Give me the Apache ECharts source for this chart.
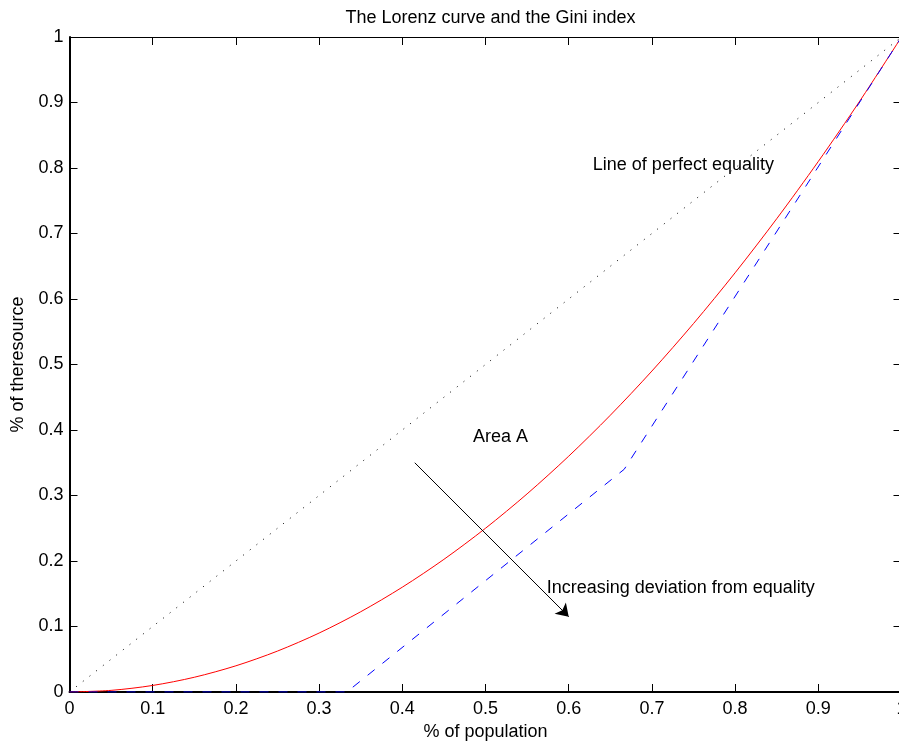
<!DOCTYPE html>
<html>
<head>
<meta charset="utf-8">
<script src="https://cdn.jsdelivr.net/npm/echarts@6/dist/echarts.min.js"></script>
<style>
  html, body { margin: 0; padding: 0; background: #fff; }
  #chart { width: 899px; height: 742px; }
</style>
</head>
<body>
<div id="chart"></div>
<script>
// Cumulative population share and the matching resource shares
const populationShare = [0, 0.05, 0.1, 0.15, 0.2, 0.25, 0.3, 0.35, 0.4, 0.45, 0.5,
                         0.55, 0.6, 0.65, 0.7, 0.75, 0.8, 0.85, 0.9, 0.95, 1];
const lorenzShare = [0, 0.0025, 0.01, 0.0225, 0.04, 0.0625, 0.09, 0.1225, 0.16, 0.2025, 0.25,
                     0.3025, 0.36, 0.4225, 0.49, 0.5625, 0.64, 0.7225, 0.81, 0.9025, 1];

// A more unequal distribution (three groups)
const groupPopulation = [0, 0.3333, 0.6667, 1];
const groupShare = [0, 0, 0.34, 1];

// Line of perfect equality
const equalityX = [0, 1];
const equalityY = [0, 1];

// Arrow showing the direction of increasing inequality
const arrowFrom = [0.415, 0.35];
const arrowTo = [0.6, 0.115];

// Text notes: [x, y, text]
const notes = [
  [0.629, 0.805, 'Line of perfect equality'],
  [0.485, 0.39, 'Area A'],
  [0.5735, 0.159, 'Increasing deviation from equality']
];

const tickValues = [0, 0.1, 0.2, 0.3, 0.4, 0.5, 0.6, 0.7, 0.8, 0.9, 1];

const FONT = 'Liberation Sans, Arial, Helvetica, sans-serif';
const FS = 18;

const zip = (xs, ys) => xs.map((x, i) => [x, ys[i]]);

const chart = echarts.init(document.getElementById('chart'), null, { renderer: 'canvas' });

function axisBase(position, showLabel, lineWidth) {
  return {
    type: 'value',
    position: position,
    min: tickValues[0],
    max: tickValues[tickValues.length - 1],
    interval: 0.1,
    axisLine: { show: true, onZero: false, lineStyle: { color: '#000', width: lineWidth } },
    axisTick: { show: true, inside: true, length: 8, lineStyle: { color: '#000', width: 1 } },
    splitLine: { show: false },
    axisLabel: {
      show: showLabel,
      color: '#000',
      fontFamily: FONT,
      fontSize: FS
    }
  };
}

const xBottom = axisBase('bottom', true, 2);
xBottom.axisLabel.margin = 8;
xBottom.name = '% of population';
xBottom.nameLocation = 'middle';
xBottom.nameGap = 30;
xBottom.nameTextStyle = { color: '#000', fontFamily: FONT, fontSize: FS };

const xTop = axisBase('top', false, 1);

const yLeft = axisBase('left', true, 2);
yLeft.axisLabel.margin = 6;
yLeft.name = '% of theresource';
yLeft.nameLocation = 'middle';
yLeft.nameGap = 42;
yLeft.nameTextStyle = { color: '#000', fontFamily: FONT, fontSize: FS };

const yRight = axisBase('right', false, 1);

chart.setOption({
  animation: false,
  backgroundColor: '#fff',
  title: {
    text: 'The Lorenz curve and the Gini index',
    left: 485.5,
    textAlign: 'center',
    top: 4,
    textStyle: { color: '#000', fontFamily: FONT, fontSize: FS, fontWeight: 'normal' }
  },
  grid: { left: 69.5, top: 37, width: 832, height: 655, containLabel: false, outerBoundsMode: 'none' },
  xAxis: [xBottom, xTop],
  yAxis: [yLeft, yRight],
  series: [
    {
      name: 'equality',
      type: 'line',
      data: zip(equalityX, equalityY),
      showSymbol: false,
      symbol: 'none',
      lineStyle: { color: '#000', width: 1, type: [1, 7.5] },
      silent: true
    },
    {
      name: 'lorenz',
      type: 'line',
      data: zip(populationShare, lorenzShare),
      showSymbol: false,
      symbol: 'none',
      smooth: 0.3,
      lineStyle: { color: '#ff0000', width: 1 },
      silent: true
    },
    {
      name: 'groups',
      type: 'line',
      data: zip(groupPopulation, groupShare),
      showSymbol: false,
      symbol: 'none',
      lineStyle: { color: '#0000ff', width: 1, type: [9, 10] },
      silent: true,
      markLine: {
        silent: true,
        symbol: ['none', 'arrow'],
        symbolSize: 12,
        label: { show: false },
        lineStyle: { color: '#000', width: 1, type: 'solid' },
        emphasis: { disabled: true },
        data: [[{ coord: arrowFrom }, { coord: arrowTo }]]
      }
    }
  ]
});

// Place the text notes at their data coordinates
const noteGraphics = notes.map(([x, y, text]) => {
  const p = chart.convertToPixel({ xAxisIndex: 0, yAxisIndex: 0 }, [x, y]);
  return {
    type: 'text',
    x: p[0],
    y: p[1],
    silent: true,
    style: {
      text: text,
      fill: '#000',
      font: FS + 'px ' + FONT,
      textAlign: 'left',
      textVerticalAlign: 'middle'
    }
  };
});
chart.setOption({ graphic: noteGraphics });
</script>
</body>
</html>
